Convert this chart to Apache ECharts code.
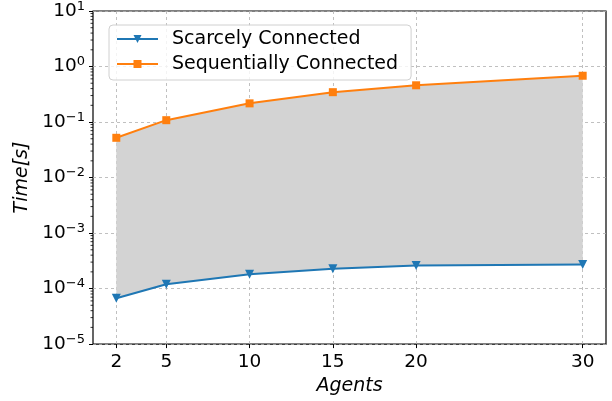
<!DOCTYPE html>
<html>
<head>
<meta charset="utf-8">
<script src="https://cdn.jsdelivr.net/npm/echarts@6/dist/echarts.min.js"></script>
<style>
  html, body { margin: 0; padding: 0; background: #fff; }
  #chart { width: 612px; height: 401px; }
</style>
</head>
<body>
<div id="chart"></div>
<script>
// Number of agents on the x axis
const agents = [2, 5, 10, 15, 20, 30];
// Solve times in seconds
const scarcelyConnected = [6.7e-5, 1.2e-4, 1.82e-4, 2.27e-4, 2.6e-4, 2.72e-4];
const sequentiallyConnected = [0.052, 0.108, 0.217, 0.345, 0.459, 0.682];
const xTicks = [2, 5, 10, 15, 20, 30];

const FONT = 'DejaVu Sans';
const X_MIN = 0.6, X_MAX = 31.4;

// Log minor ticks (2..9 of every decade)
const minorTicks = [];
for (let e = -5; e < 1; e++) {
  for (let m = 2; m <= 9; m++) minorTicks.push([X_MIN, m * Math.pow(10, e)]);
}

function decadeLabel(v) {
  const e = Math.round(Math.log10(v));
  const s = String(e).replace('-', '\u2212');
  return '{b|10}{s|' + s + '}';
}

const chart = echarts.init(document.getElementById('chart'), null, { renderer: 'canvas' });

const option = {
  animation: false,
  backgroundColor: '#fff',
  textStyle: { fontFamily: FONT },
  grid: {
    left: 93, right: 6, top: 9, bottom: 54,
    show: true, borderColor: '#000', borderWidth: 1.2, backgroundColor: 'transparent'
  },
  legend: {
    left: 109, top: 25,
    orient: 'vertical',
    padding: [4, 13, 6, 7],
    itemGap: 5,
    itemWidth: 41,
    itemHeight: 10,
    backgroundColor: 'rgba(255,255,255,0.8)',
    borderColor: '#d0d0d0',
    borderWidth: 1,
    borderRadius: 4,
    textStyle: { fontFamily: FONT, fontSize: 19, color: '#000', lineHeight: 20, padding: [0, 0, 0, 9] },
    data: ['Scarcely Connected', 'Sequentially Connected']
  },
  xAxis: {
    type: 'value',
    min: X_MIN, max: X_MAX,
    name: 'Agents',
    nameLocation: 'middle',
    nameGap: 31,
    nameTextStyle: { fontFamily: FONT, fontSize: 19, fontStyle: 'italic', color: '#000' },
    axisLine: { show: false },
    axisTick: { show: true, customValues: xTicks, length: 4, lineStyle: { color: '#000', width: 1 } },
    axisLabel: { customValues: xTicks, fontFamily: FONT, fontSize: 18.5, color: '#000', margin: 9 },
    splitLine: { show: true, lineStyle: { color: '#b0b0b0', type: [3, 3], width: 0.8 } }
  },
  yAxis: {
    type: 'log',
    logBase: 10,
    min: 1e-5, max: 10,
    splitNumber: 6,
    name: 'Time[s]',
    nameLocation: 'middle',
    nameGap: 56,
    nameTextStyle: { fontFamily: FONT, fontSize: 19, fontStyle: 'italic', color: '#000' },
    axisLine: { show: false },
    axisTick: { show: true, length: 4, lineStyle: { color: '#000', width: 1 } },
    axisLabel: {
      formatter: decadeLabel,
      margin: 8,
      rich: {
        b: { fontFamily: FONT, fontSize: 18.5, color: '#000' },
        s: { fontFamily: FONT, fontSize: 13, color: '#000', padding: [0, 0, 9, 0] }
      }
    },
    splitLine: { show: true, lineStyle: { color: '#b0b0b0', type: [3, 3], width: 0.8 } }
  },
  series: [
    {
      // shaded band between the two curves
      type: 'custom',
      silent: true,
      z: 1,
      data: [[agents[0], sequentiallyConnected[0]]],
      renderItem: function (params, api) {
        const pts = [];
        for (let i = 0; i < agents.length; i++) pts.push(api.coord([agents[i], sequentiallyConnected[i]]));
        for (let i = agents.length - 1; i >= 0; i--) pts.push(api.coord([agents[i], scarcelyConnected[i]]));
        return { type: 'polygon', shape: { points: pts }, style: { fill: '#d3d3d3' } };
      }
    },
    {
      // minor ticks of the log axis
      type: 'custom',
      silent: true,
      clip: false,
      z: 3,
      data: minorTicks,
      renderItem: function (params, api) {
        const p = api.coord([api.value(0), api.value(1)]);
        return {
          type: 'line',
          shape: { x1: p[0] - 2.5, y1: p[1], x2: p[0], y2: p[1] },
          style: { stroke: '#000', lineWidth: 0.8 }
        };
      }
    },
    {
      name: 'Scarcely Connected',
      type: 'line',
      z: 5,
      data: agents.map((a, i) => [a, scarcelyConnected[i]]),
      color: '#1f77b4',
      lineStyle: { width: 2 },
      symbol: 'triangle',
      symbolRotate: 180,
      symbolSize: 9,
      showAllSymbol: true,
      itemStyle: { color: '#1f77b4' }
    },
    {
      name: 'Sequentially Connected',
      type: 'line',
      z: 5,
      data: agents.map((a, i) => [a, sequentiallyConnected[i]]),
      color: '#ff7f0e',
      lineStyle: { width: 2 },
      symbol: 'rect',
      symbolSize: 8,
      showAllSymbol: true,
      itemStyle: { color: '#ff7f0e' }
    }
  ]
};

chart.setOption(option);
</script>
</body>
</html>
